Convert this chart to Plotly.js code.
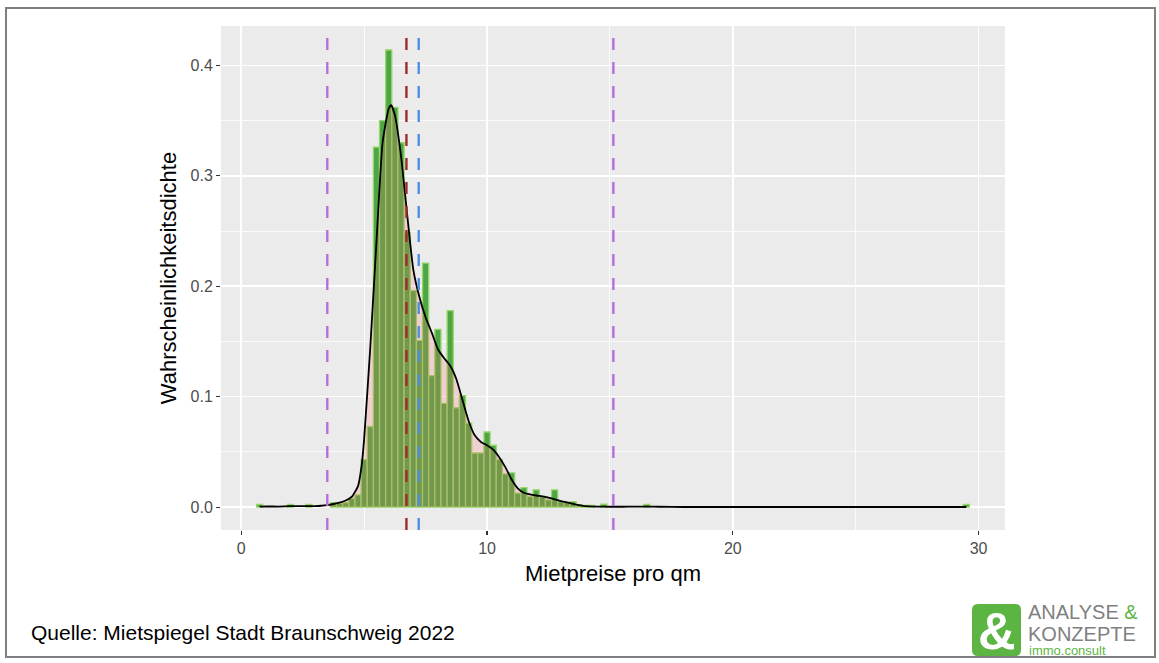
<!DOCTYPE html>
<html>
<head>
<meta charset="utf-8">
<script src="https://cdn.plot.ly/plotly-3.0.1.min.js"></script>
<style>
  html, body { margin: 0; padding: 0; background: #ffffff; }
  #chart { position: absolute; left: 0; top: 0; width: 1159px; height: 663px; }
  #frame { position: absolute; left: 5px; top: 7px; width: 1147px; height: 647px;
           border: 2px solid #7f7f7f; pointer-events: none; }
</style>
</head>
<body>
<div id="chart"></div>
<div id="frame"></div>
<script>
// ---- data ----
// histogram (binwidth 0.25) – bin centres and density heights (only non-empty bins)
const binCenters = [0.75, 2.0, 2.75, 3.75, 4.0, 4.25, 4.5, 4.75, 5.0, 5.25,
  5.5, 5.75, 6.0, 6.25, 6.5, 6.75, 7.0, 7.25, 7.5, 7.75,
  8.0, 8.25, 8.5, 8.75, 9.0, 9.25, 9.5, 9.75, 10.0, 10.25,
  10.5, 10.75, 11.0, 11.25, 11.5, 11.75, 12.0, 12.25, 12.5, 12.75,
  13.0, 13.25, 13.5, 13.75, 14.0, 14.25, 14.75, 16.5, 29.5];
const binDensity = [0.0025, 0.0025, 0.0025, 0.004, 0.0035, 0.004, 0.008, 0.011, 0.043, 0.073,
  0.326, 0.350, 0.414, 0.362, 0.330, 0.249, 0.196, 0.151, 0.221, 0.119,
  0.161, 0.094, 0.178, 0.090, 0.101, 0.076, 0.049, 0.049, 0.068, 0.056,
  0.043, 0.030, 0.031, 0.0126, 0.0177, 0.0096, 0.0156, 0.0096, 0.0066, 0.0156,
  0.005, 0.0042, 0.005, 0.0021, 0.0015, 0.0015, 0.0027, 0.0025, 0.0025];

// kernel density estimate (black curve)
const kdeX = [0.75, 1, 1.5, 2, 2.5, 3, 3.25, 3.5, 3.75, 4, 4.25, 4.5, 4.75, 4.9, 5, 5.25, 5.5, 5.75, 6, 6.1,
  6.25, 6.5, 6.75, 7, 7.25, 7.5, 7.75, 8, 8.25, 8.5, 8.75, 9, 9.25, 9.5, 9.75, 10, 10.25, 10.5, 10.75, 11,
  11.25, 11.5, 11.75, 12, 12.25, 12.5, 12.75, 13, 13.25, 13.5, 13.75, 14, 14.5, 15, 15.5, 16, 16.5, 17, 18, 20, 25, 29.5];
const kdeY = [0.0004, 0.0006, 0.0005, 0.0008, 0.0008, 0.0009, 0.0012, 0.0018, 0.0028, 0.004, 0.006, 0.0095, 0.019, 0.038, 0.062, 0.145, 0.24, 0.33, 0.361, 0.364,
  0.355, 0.318, 0.265, 0.215, 0.19, 0.172, 0.158, 0.143, 0.135, 0.128, 0.116, 0.097, 0.078, 0.065, 0.059, 0.056, 0.052, 0.045, 0.036, 0.025,
  0.017, 0.013, 0.0115, 0.0105, 0.0097, 0.0085, 0.007, 0.0055, 0.0042, 0.003, 0.0018, 0.0008, 0.0004, 0.0003, 0.0003, 0.0004, 0.0005, 0.0003, 0.0001, 0.0001, 0.0001, 0.0001];

// reference lines (dashed verticals)
const refLineX = [3.5, 6.72, 7.22, 15.14];

// tick labels
const xTickVals = [0, 10, 20, 30];
const xTickText = ['0', '10', '20', '30'];
const yTickVals = [0, 0.1, 0.2, 0.3, 0.4];
const yTickText = ['0.0', '0.1', '0.2', '0.3', '0.4'];

// texts
const xTitle = 'Mietpreise pro qm';
const yTitle = 'Wahrscheinlichkeitsdichte';
const caption = 'Quelle: Mietspiegel Stadt Braunschweig 2022';

// ---- styling ----
const refLineColors = ['#b36fdb', '#9b2c2c', '#4f8fe0', '#b36fdb'];
const W = 1159, H = 663;
const M = {l: 221, r: 154, t: 26, b: 133};
const pw = W - M.l - M.r, ph = H - M.t - M.b;
const px = x => (x - M.l) / pw;            // pixel -> paper x
const py = y => (H - M.b - y) / ph;        // pixel -> paper y
const FONT = 'Liberation Sans, Arial, sans-serif';

const traces = [
  {
    type: 'bar', x: binCenters, y: binDensity, width: 0.25,
    marker: {color: '#4ea545', line: {color: '#96d66a', width: 1.3}},
    hoverinfo: 'skip'
  },
  {
    type: 'scatter', mode: 'lines', x: kdeX, y: kdeY,
    fill: 'tozeroy', fillcolor: 'rgba(255,102,102,0.2)',
    line: {color: '#000000', width: 1.8, shape: 'spline', smoothing: 0.5},
    hoverinfo: 'skip'
  }
];

const shapes = refLineX.map((x, i) => ({
  type: 'line', xref: 'x', yref: 'paper', x0: x, x1: x, y0: 0, y1: 1,
  line: {color: refLineColors[i], width: 2.4, dash: '12px,12px'}, layer: 'above'
}));

// logo square
(function () {
  const x0 = 972, x1 = 1021, y0 = 604, y1 = 656, r = 6;
  const p = (x, y) => px(x) + ',' + py(y);
  const path = 'M' + p(x0 + r, y0) + ' L' + p(x1 - r, y0) + ' Q' + p(x1, y0) + ' ' + p(x1, y0 + r) +
    ' L' + p(x1, y1 - r) + ' Q' + p(x1, y1) + ' ' + p(x1 - r, y1) +
    ' L' + p(x0 + r, y1) + ' Q' + p(x0, y1) + ' ' + p(x0, y1 - r) +
    ' L' + p(x0, y0 + r) + ' Q' + p(x0, y0) + ' ' + p(x0 + r, y0) + ' Z';
  shapes.push({type: 'path', xref: 'paper', yref: 'paper', path: path,
    fillcolor: '#5cb543', line: {width: 0}, layer: 'above'});
})();

const annotations = [
  {text: caption, xref: 'paper', yref: 'paper', x: px(29), y: py(632),
   xanchor: 'left', yanchor: 'middle', showarrow: false,
   font: {family: FONT, size: 21, color: '#000000'}},
  {text: '&', xref: 'paper', yref: 'paper', x: px(996.5), y: py(631),
   xanchor: 'center', yanchor: 'middle', showarrow: false,
   font: {family: FONT, size: 52, color: '#ffffff', weight: 'bold'}},
  {text: 'ANALYSE <span style="color:#5cb543">&</span>', xref: 'paper', yref: 'paper', x: px(1026), y: py(612),
   xanchor: 'left', yanchor: 'middle', showarrow: false,
   font: {family: FONT, size: 20, color: '#808080'}},
  {text: 'KONZEPTE', xref: 'paper', yref: 'paper', x: px(1026), y: py(634),
   xanchor: 'left', yanchor: 'middle', showarrow: false,
   font: {family: FONT, size: 20, color: '#808080'}},
  {text: 'immo.consult', xref: 'paper', yref: 'paper', x: px(1027), y: py(650),
   xanchor: 'left', yanchor: 'middle', showarrow: false,
   font: {family: FONT, size: 13, color: '#5cb543'}}
];

const layout = {
  width: W, height: H,
  margin: M,
  paper_bgcolor: '#ffffff',
  plot_bgcolor: '#ebebeb',
  showlegend: false,
  bargap: 0,
  hovermode: false,
  font: {family: FONT, color: '#000000'},
  xaxis: {
    range: [-0.825, 31.075], tickvals: xTickVals, ticktext: xTickText,
    ticks: 'outside', ticklen: 4, tickwidth: 1.1, tickcolor: '#333333',
    tickfont: {family: FONT, size: 16, color: '#4d4d4d'},
    showgrid: true, gridcolor: '#ffffff', gridwidth: 1.6,
    minor: {dtick: 5, tick0: 0, showgrid: true, gridcolor: '#ffffff', gridwidth: 0.8},
    zeroline: false, showline: false, automargin: false,
    title: {text: xTitle, font: {family: FONT, size: 22, color: '#000000'}, standoff: 9}
  },
  yaxis: {
    range: [-0.02075, 0.43575], tickvals: yTickVals, ticktext: yTickText,
    ticks: 'outside', ticklen: 4, tickwidth: 1.1, tickcolor: '#333333',
    tickfont: {family: FONT, size: 16, color: '#4d4d4d'},
    showgrid: true, gridcolor: '#ffffff', gridwidth: 1.6,
    minor: {dtick: 0.05, tick0: 0, showgrid: true, gridcolor: '#ffffff', gridwidth: 0.8},
    zeroline: false, showline: false, automargin: false,
    title: {text: yTitle, font: {family: FONT, size: 22, color: '#000000'}, standoff: 7}
  },
  shapes: shapes,
  annotations: annotations
};

Plotly.newPlot('chart', traces, layout, {staticPlot: true, displayModeBar: false});
</script>
</body>
</html>
